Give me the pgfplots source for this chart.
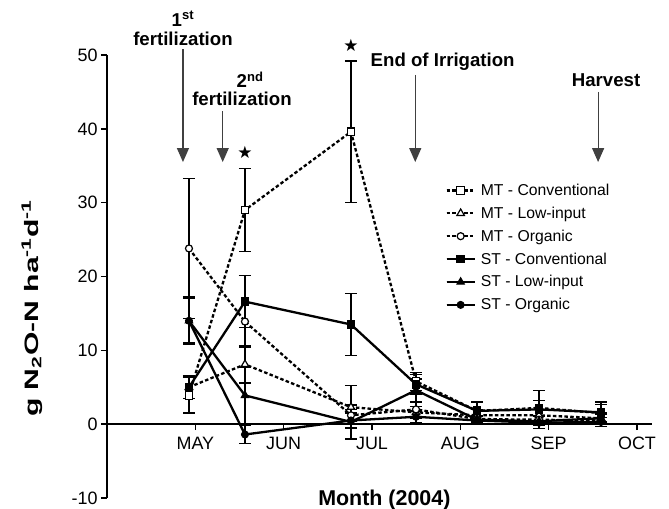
\documentclass[border=0pt]{standalone}
\usepackage{pgfplots}
\pgfplotsset{compat=1.18}
\usepackage{pgfplotstable}
\usepackage{fontspec}
\setmainfont{Liberation Sans}
\newfontfamily\symfont{DejaVu Sans}
\usetikzlibrary{arrows.meta}

\pgfplotstableread{
x y e
0.928 3.9 2.4
1.562 29.0 5.6
2.762 39.6 9.6
3.498 5.8 1.2
4.189 1.8 1.2
4.891 2.2 1.0
5.593 1.5 1.2
}\mtconv
\pgfplotstableread{
x y e
0.928 5.0 1.5
1.562 8.1 2.5
2.762 2.3 2.9
3.498 1.6 0.8
4.189 1.2 0.8
4.891 1.2 0.8
5.593 0.8 0.6
}\mtlow
\pgfplotstableread{
x y e
0.928 23.8 9.5
1.562 13.9 6.2
2.762 1.2 0.8
3.498 2.0 1.0
4.189 0.7 0.5
4.891 0.6 0.5
5.593 0.5 0.4
}\mtorg
\pgfplotstableread{
x y e
0.928 5.0 1.5
1.562 16.6 3.5
2.762 13.5 4.2
3.498 5.4 1.3
4.189 1.8 1.2
4.891 2.0 2.6
5.593 1.6 1.4
}\stconv
\pgfplotstableread{
x y e
0.928 14.0 3.0
1.562 3.9 6.5
2.762 0.3 2.3
3.498 4.6 1.5
4.189 0.6 0.6
4.891 0.4 0.6
5.593 0.8 0.8
}\stlow
\pgfplotstableread{
x y e
0.928 14.0 3.2
1.562 -1.4 1.2
2.762 0.5 1.0
3.498 1.0 0.8
4.189 0.5 0.5
4.891 0.2 0.8
5.593 0.3 0.6
}\storg

\begin{document}
\begin{tikzpicture}
\path[use as bounding box] (-107bp,-11bp) rectangle (562bp,498bp);
\begin{axis}[
  at={(0,0)}, anchor=south west,
  scale only axis, width=545bp, height=443bp,
  xmin=0, xmax=6.17, ymin=-10, ymax=50,
  axis x line=middle, axis y line=left,
  axis line style={-, line width=1.4bp, black},
  xtick={1,2,3,4,5,6}, xticklabels={MAY,JUN,JUL,AUG,SEP,OCT},
  ytick={-10,0,10,20,30,40,50},
  tick align=outside, major tick length=6bp,
  tick style={black, line width=1.4bp},
  hide obscured x ticks=false, hide obscured y ticks=false,
  ticklabel style={font=\fontsize{18}{20}\selectfont},
  xticklabel style={yshift=-3bp},
  /pgf/number format/assume math mode=true,
  clip=false,
  legend style={at={(axis cs:3.83,32.7)}, anchor=north west, draw=none, fill=none,
    font=\fontsize{15.8}{18}\selectfont, row sep=8bp, inner sep=0pt,
    nodes={inner sep=1bp},
    /tikz/every odd column/.append style={column sep=4bp}},
  legend cell align=left,
  legend image code/.code={\draw[#1] (0bp,0bp) -- (28bp,0bp);
     \draw[#1, mark repeat=2, mark phase=2] plot coordinates {(0bp,0bp) (14bp,0bp) (28bp,0bp)};},
  every axis plot/.append style={line width=2.3bp, black},
  mt/.style={dash pattern=on 3.5bp off 2.3bp, mark options={solid, fill=white, line width=1.2bp}},
  st/.style={solid, mark options={solid, fill=black, line width=1bp}},
  error bars/y dir=both, error bars/y explicit,
  error bars/error bar style={solid, line width=1.4bp, black},
  error bars/error mark options={rotate=90, mark size=6bp, line width=1.4bp, solid, black},
]
\addplot[mt, mark=square*, mark size=3.8bp] table[x=x,y=y,y error=e] {\mtconv};
\addlegendentry{MT - Conventional}
\addplot[mt, mark=triangle*, mark size=4.3bp] table[x=x,y=y,y error=e] {\mtlow};
\addlegendentry{MT - Low-input}
\addplot[mt, mark=*, mark size=3.5bp] table[x=x,y=y,y error=e] {\mtorg};
\addlegendentry{MT - Organic}
\addplot[st, mark=square*, mark size=3.8bp] table[x=x,y=y,y error=e] {\stconv};
\addlegendentry{ST - Conventional}
\addplot[st, mark=triangle*, mark size=4.3bp] table[x=x,y=y,y error=e] {\stlow};
\addlegendentry{ST - Low-input}
\addplot[st, mark=*, mark size=3.5bp] table[x=x,y=y,y error=e] {\storg};
\addlegendentry{ST - Organic}

% annotation arrows
\draw[-{Triangle[length=14bp,width=12bp]}, line width=1.2bp, black!75] (axis cs:0.86,50.8) -- (axis cs:0.86,35.5);
\draw[-{Triangle[length=14bp,width=12bp]}, line width=1.2bp, black!75] (axis cs:1.31,42.4) -- (axis cs:1.31,35.5);
\draw[-{Triangle[length=14bp,width=12bp]}, line width=1.2bp, black!75] (axis cs:3.49,47.3) -- (axis cs:3.49,35.5);
\draw[-{Triangle[length=14bp,width=12bp]}, line width=1.2bp, black!75] (axis cs:5.56,45.0) -- (axis cs:5.56,35.5);

\tikzset{ann/.style={font=\fontsize{18.7}{21}\selectfont\bfseries, anchor=base, inner sep=0pt}}
\node[ann] at (axis cs:0.86,53.9) {1\textsuperscript{st}};
\node[ann] at (axis cs:0.86,51.3) {fertilization};
\node[ann] at (axis cs:1.62,45.6) {2\textsuperscript{nd}};
\node[ann] at (axis cs:1.528,43.1) {fertilization};
\node[ann] at (axis cs:3.80,48.4) {End of Irrigation};
\node[ann] at (axis cs:5.65,45.8) {Harvest};

\node[font=\fontsize{17}{17}\selectfont\symfont, inner sep=0pt] at (axis cs:1.562,36.8) {★};
\node[font=\fontsize{17}{17}\selectfont\symfont, inner sep=0pt] at (axis cs:2.762,51.3) {★};

% axis labels
\node[font=\fontsize{21.5}{24}\selectfont\bfseries, anchor=base, inner sep=0pt] at (axis cs:3.14,-11.0) {Month (2004)};
\node[font=\fontsize{19.5}{20}\selectfont\bfseries, rotate=90, inner sep=0pt] at (axis cs:-0.849,15.7) {\scalebox{1.55}[1]{g N\textsubscript{2}O-N ha\textsuperscript{-1}d\textsuperscript{-1}}};
\end{axis}
\end{tikzpicture}
\end{document}
